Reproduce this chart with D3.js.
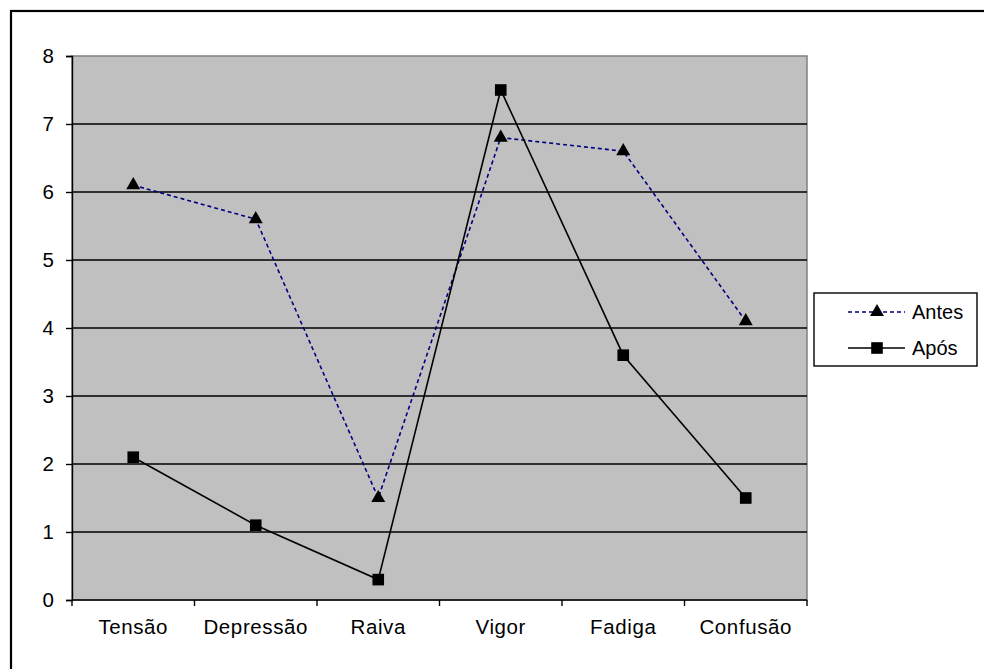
<!DOCTYPE html>
<html>
<head>
<meta charset="utf-8">
<script src="https://cdn.jsdelivr.net/npm/d3@7"></script>
<style>
  html, body { margin: 0; padding: 0; background: #fff; }
  svg { display: block; font-family: "Liberation Sans", Arial, sans-serif; }
</style>
</head>
<body>
<svg id="chart" width="984" height="669"></svg>
<script>
// Mood profile scores before and after
const categories = ["Tensão", "Depressão", "Raiva", "Vigor", "Fadiga", "Confusão"];
const antes = [6.1, 5.6, 1.5, 6.8, 6.6, 4.1];
const apos  = [2.1, 1.1, 0.3, 7.5, 3.6, 1.5];
const yTicks = [0, 1, 2, 3, 4, 5, 6, 7, 8];
const seriesNames = ["Antes", "Após"];

const svg = d3.select("#chart");

// outer chart frame
svg.append("rect")
  .attr("x", 11).attr("y", 11)
  .attr("width", 1000).attr("height", 700)
  .attr("fill", "none").attr("stroke", "#000").attr("stroke-width", 2.2);

const plot = { left: 72, top: 56, right: 807, bottom: 600 };

const x = d3.scaleBand().domain(categories).range([plot.left, plot.right]);
const y = d3.scaleLinear().domain([0, 8]).range([plot.bottom, plot.top]);

// plot background
svg.append("rect")
  .attr("x", plot.left).attr("y", plot.top)
  .attr("width", plot.right - plot.left).attr("height", plot.bottom - plot.top)
  .attr("fill", "#c0c0c0").attr("stroke", "#808080").attr("stroke-width", 1.5);

// horizontal gridlines
svg.append("g").selectAll("line")
  .data(yTicks.filter(t => t > 0 && t < 8))
  .join("line")
  .attr("x1", plot.left).attr("x2", plot.right)
  .attr("y1", d => y(d)).attr("y2", d => y(d))
  .attr("stroke", "#000").attr("stroke-width", 1.4);

// y axis
const yAxis = svg.append("g")
  .attr("transform", `translate(${plot.left},0)`)
  .call(d3.axisLeft(y).tickValues(yTicks).tickSize(6).tickPadding(12).tickFormat(d3.format("d")));
yAxis.select(".domain").attr("stroke", "#000").attr("stroke-width", 1.4);
yAxis.selectAll(".tick line").attr("stroke", "#000").attr("stroke-width", 1.4);
yAxis.selectAll(".tick text")
  .attr("font-size", 20.5).attr("fill", "#000")
  .attr("font-family", "Liberation Sans, Arial, sans-serif");

// x axis with ticks at band edges
const xAxis = svg.append("g")
  .attr("transform", `translate(0,${plot.bottom})`);
xAxis.append("line")
  .attr("x1", plot.left).attr("x2", plot.right)
  .attr("y1", 0).attr("y2", 0)
  .attr("stroke", "#000").attr("stroke-width", 1.4);
const edges = categories.map(c => x(c)).concat([x(categories[categories.length - 1]) + x.bandwidth()]);
xAxis.selectAll("line.tk")
  .data(edges)
  .join("line").attr("class", "tk")
  .attr("x1", d => d).attr("x2", d => d)
  .attr("y1", 0).attr("y2", 6)
  .attr("stroke", "#000").attr("stroke-width", 1.4);
xAxis.selectAll("text")
  .data(categories)
  .join("text")
  .attr("x", d => x(d) + x.bandwidth() / 2)
  .attr("y", 34)
  .attr("text-anchor", "middle")
  .attr("font-size", 20.5)
  .attr("letter-spacing", 0.6)
  .attr("fill", "#000")
  .text(d => d);

const cx = c => x(c) + x.bandwidth() / 2;
const line = d3.line().x((d, i) => cx(categories[i])).y(d => y(d));

// Antes: dashed navy line with triangles
svg.append("path")
  .datum(antes)
  .attr("d", line)
  .attr("fill", "none")
  .attr("stroke", "#000080")
  .attr("stroke-width", 1.6)
  .attr("stroke-dasharray", "4,3");

// Após: solid black line with squares
svg.append("path")
  .datum(apos)
  .attr("d", line)
  .attr("fill", "none")
  .attr("stroke", "#000")
  .attr("stroke-width", 1.6);

const tri = d3.symbol().type(d3.symbolTriangle).size(85);
const sq = d3.symbol().type(d3.symbolSquare).size(135);

svg.append("g").selectAll("path")
  .data(antes)
  .join("path")
  .attr("d", tri)
  .attr("transform", (d, i) => `translate(${cx(categories[i])},${y(d)})`)
  .attr("fill", "#000");

svg.append("g").selectAll("path")
  .data(apos)
  .join("path")
  .attr("d", sq)
  .attr("transform", (d, i) => `translate(${cx(categories[i])},${y(d)})`)
  .attr("fill", "#000");

// legend
const lg = svg.append("g");
lg.append("rect")
  .attr("x", 814).attr("y", 293)
  .attr("width", 163).attr("height", 73)
  .attr("fill", "#fff").attr("stroke", "#000").attr("stroke-width", 1.4);

const legendRows = [
  { name: seriesNames[0], y: 312, stroke: "#000080", dash: "4,3", marker: tri },
  { name: seriesNames[1], y: 348, stroke: "#000", dash: null, marker: sq }
];
legendRows.forEach(r => {
  lg.append("line")
    .attr("x1", 848).attr("x2", 905)
    .attr("y1", r.y).attr("y2", r.y)
    .attr("stroke", r.stroke).attr("stroke-width", 1.5)
    .attr("stroke-dasharray", r.dash);
  lg.append("path")
    .attr("d", r.marker)
    .attr("transform", `translate(877,${r.y})`)
    .attr("fill", "#000");
  lg.append("text")
    .attr("x", 912).attr("y", r.y + 7)
    .attr("font-size", 20)
    .attr("fill", "#000")
    .text(r.name);
});
</script>
</body>
</html>
